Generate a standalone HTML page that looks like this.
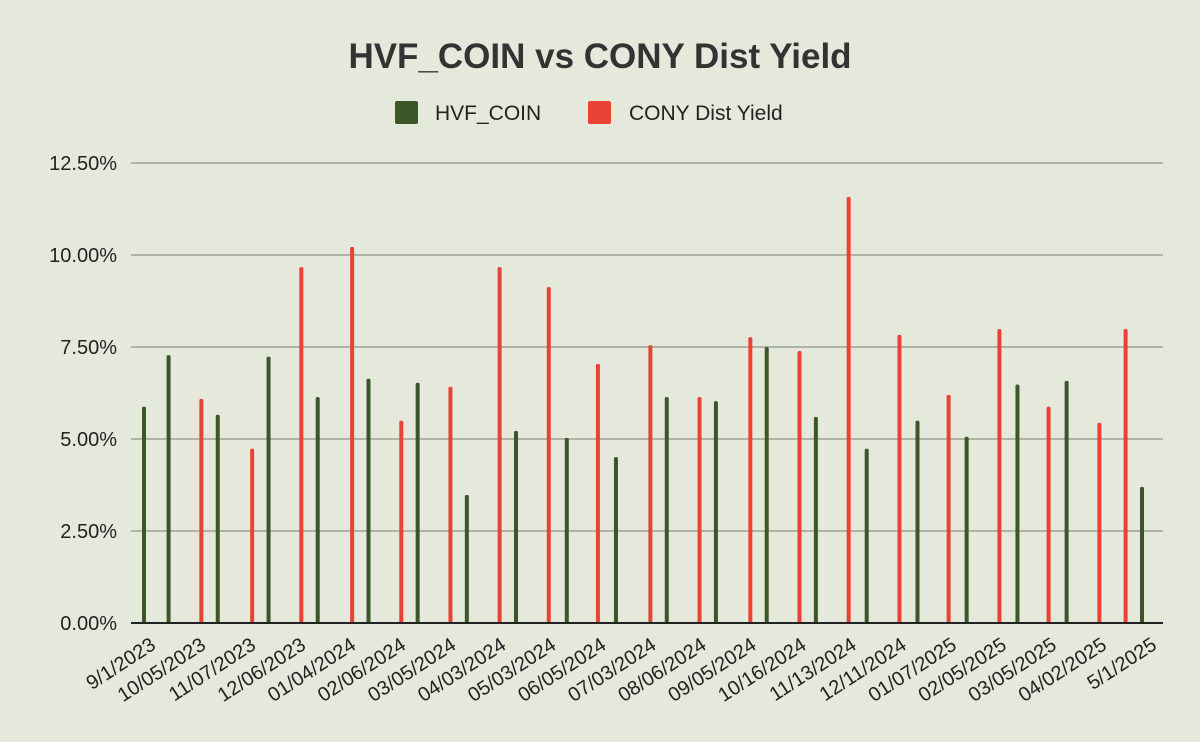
<!DOCTYPE html>
<html><head><meta charset="utf-8"><style>
body{margin:0;background:#e5e9dc;}
svg{display:block;font-family:"Liberation Sans",Arial,sans-serif;}
</style></head><body>
<svg id="chart" width="1200" height="742">
<rect width="1200" height="742" fill="#e5e9dc"/>
<text x="600" y="68" text-anchor="middle" font-size="35" font-weight="bold" fill="#333">HVF_COIN vs CONY Dist Yield</text>
<g>
<rect x="395" y="101" width="23" height="23" rx="2" fill="#3b5628"/>
<text x="435" y="120" font-size="21" fill="#222">HVF_COIN</text>
<rect x="588" y="101" width="23" height="23" rx="2" fill="#e94234"/>
<text x="629" y="120" font-size="21" fill="#222">CONY Dist Yield</text>
</g>
<g id="grid"></g><g id="bars"></g><g id="xlabels"></g>
</svg>
<script>
const yTicks=[0,2.5,5,7.5,10,12.5];
const yTickLabels=["0.00%","2.50%","5.00%","7.50%","10.00%","12.50%"];
const xLabels=["9/1/2023","10/05/2023","11/07/2023","12/06/2023","01/04/2024","02/06/2024","03/05/2024","04/03/2024","05/03/2024","06/05/2024","07/03/2024","08/06/2024","09/05/2024","10/16/2024","11/13/2024","12/11/2024","01/07/2025","02/05/2025","03/05/2025","04/02/2025","5/1/2025"];
const barDays=[0,15,35,45,66,76,96,106,127,137,157,167,187,197,217,227,247,258,277,288,309,319,339,349,370,380,400,410,430,441,461,472,491,502,522,533,552,563,583,599,609];
const barSeries=["H","H","C","H","C","H","C","H","C","H","C","H","C","H","C","H","C","H","C","H","C","H","C","H","C","H","C","H","C","H","C","H","C","H","C","H","C","H","C","C","H"];
const barValues=[5.88,7.28,6.09,5.66,4.74,7.24,9.67,6.14,10.22,6.64,5.50,6.53,6.42,3.48,9.67,5.22,9.13,5.03,7.04,4.51,7.55,6.14,6.14,6.03,7.77,7.50,7.39,5.60,11.58,4.74,7.83,5.50,6.20,5.06,7.99,6.48,5.88,6.58,5.44,7.99,3.70];
const NS="http://www.w3.org/2000/svg";
const x0=131,x1=1163,y0=623,yTop=163;
const yScale=v=>y0-(v/12.5)*(y0-yTop);
const xScale=d=>144+d*(1142-144)/609;
const grid=document.getElementById('grid');
yTicks.forEach((t,i)=>{
  const y=yScale(t);
  if(i>0){const l=document.createElementNS(NS,'line');
  l.setAttribute('x1',x0);l.setAttribute('x2',x1);l.setAttribute('y1',y);l.setAttribute('y2',y);
  l.setAttribute('stroke','#b0b3a6');l.setAttribute('stroke-width','2');
  
  
  grid.appendChild(l);}
  const tx=document.createElementNS(NS,'text');
  tx.setAttribute('x',117);tx.setAttribute('y',y+7);tx.setAttribute('text-anchor','end');
  tx.setAttribute('font-size','20');tx.setAttribute('fill','#222');tx.textContent=yTickLabels[i];
  
  
  grid.appendChild(tx);
});
const bars=document.getElementById('bars');
barValues.forEach((v,i)=>{
  const x=xScale(barDays[i]),y=yScale(v);
  const p=document.createElementNS(NS,'path');
  p.setAttribute('d',`M${x-2},${y0} L${x-2},${y+1.5} Q${x-2},${y} ${x},${y} Q${x+2},${y} ${x+2},${y+1.5} L${x+2},${y0} Z`);
  p.setAttribute('fill',barSeries[i]==="H"?'#3b5628':'#e94234');
  
  
  bars.appendChild(p);
});
const ax=document.createElementNS(NS,'line');
ax.setAttribute('x1',x0);ax.setAttribute('x2',x1);ax.setAttribute('y1',y0);ax.setAttribute('y2',y0);
ax.setAttribute('stroke','#222');ax.setAttribute('stroke-width','2');


bars.appendChild(ax);
const xl=document.getElementById('xlabels');
xLabels.forEach((s,i)=>{
  const x=157+i*(1158-157)/20,y=648;
  const t=document.createElementNS(NS,'text');
  t.setAttribute('x',x);t.setAttribute('y',y);t.setAttribute('text-anchor','end');
  t.setAttribute('font-size','20');t.setAttribute('fill','#222');
  t.setAttribute('transform',`rotate(-33 ${x} ${y})`);
  t.textContent=s;
  
  
  xl.appendChild(t);
});
</script>
</body></html>
